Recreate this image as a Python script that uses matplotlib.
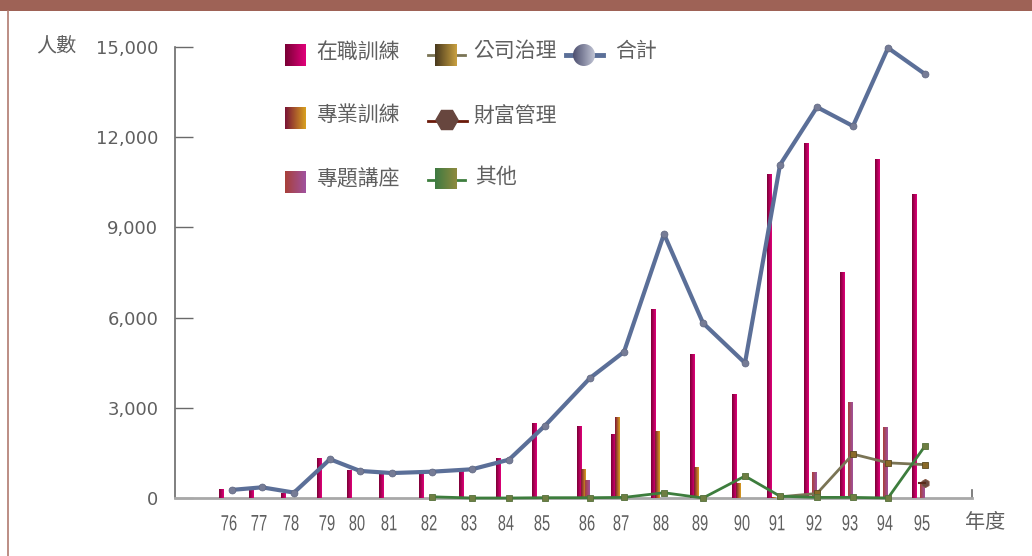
import matplotlib
matplotlib.use("Agg")
import matplotlib.pyplot as plt
import numpy as np
from matplotlib.patches import Rectangle, Circle, RegularPolygon, PathPatch
from matplotlib.textpath import TextPath
from matplotlib.font_manager import FontProperties
from matplotlib.transforms import Affine2D

plt.rcParams['font.family'] = ['Noto Sans CJK TC', 'DejaVu Sans']

# 年度 (民國)
years = ['76', '77', '78', '79', '80', '81', '82', '83', '84', '85',
         '86', '87', '88', '89', '90', '91', '92', '93', '94', '95']
# tick centres along the year axis (spacing is uneven on this chart)
x_pos = [229, 259, 291, 327, 357, 389, 429, 469, 506, 542,
         587, 621, 661, 700, 742, 777, 814, 850, 885, 922]

on_job = [300, 330, 170, 1330, 930, 800, 840, 910, 1320, 2490,
          2400, 2130, 6300, 4790, 3460, 10780, 11800, 7520, 11280, 10110]
professional = [0, 0, 0, 0, 0, 0, 0, 0, 0, 0,
                970, 2690, 2230, 1030, 500, 30, 0, 0, 0, 0]
seminar = [0, 0, 0, 0, 0, 0, 0, 0, 0, 0,
           600, 0, 0, 0, 0, 0, 860, 3190, 2360, 460]
governance = [None] * 15 + [40, 150, 1460, 1170, 1110]
wealth = [None] * 19 + [490]
other = [None] * 6 + [40, 0, 0, 10, 10, 20, 175, 0, 730, 60, 20, 20, 0, 1730]
total = [270, 355, 180, 1290, 900, 830, 875, 955, 1275, 2405,
         3990, 4860, 8780, 5820, 4490, 11080, 13000, 12370, 14970, 14100]

TXT = '#5f5f5f'


def grad(ax, x0, x1, y0, y1, c0, c1, clip=None, z=3):
    g = np.linspace(0, 1, 32)[None, :]
    cols = np.array([matplotlib.colors.to_rgb(c0), matplotlib.colors.to_rgb(c1)])
    img = (1 - g[..., None]) * cols[0] + g[..., None] * cols[1]
    im = ax.imshow(img, extent=[x0, x1, y0, y1], aspect='auto',
                   interpolation='bilinear', zorder=z, origin='lower')
    if clip is not None:
        im.set_clip_path(clip)
    return im


fig = plt.figure(figsize=(10.32, 5.56), dpi=100)
ax = fig.add_axes([175 / 1032, 1 - 498 / 556, 797 / 1032, 451 / 556])

bar_w = 5
bar_sets = [
    (on_job, -7.5, '#7a0035', '#e0007a'),
    (professional, -3.0, '#7a1535', '#d8a020'),
    (seminar, 1.0, '#a8403a', '#a0529e'),
]
for vals, off, c0, c1 in bar_sets:
    xs = [p + off for p in x_pos]
    bars = ax.bar(xs, vals, width=bar_w, color='none', linewidth=0, zorder=3)
    for b, v in zip(bars, vals):
        if v <= 0:
            continue
        grad(ax, b.get_x(), b.get_x() + b.get_width(), 0, v, c0, c1, clip=b)

lx = [p + 3 for p in x_pos]


def series(vals):
    pts = [(x, v) for x, v in zip(lx, vals) if v is not None]
    return [p[0] for p in pts], [p[1] for p in pts]


gx, gy = series(governance)
ax.plot(gx, gy, color='#7a7455', lw=2, zorder=5, marker='s', ms=4.5,
        mfc='#8a6a28', mec='#5a4a20', mew=0.6)
ox, oy = series(other)
ax.plot(ox, oy, color='#3d7d3d', lw=2, zorder=6, marker='s', ms=4.5,
        mfc='#6e7e42', mec='#55703a', mew=0.6, clip_on=False)
wx, wy = series(wealth)
ax.plot(wx, wy, color='#5a2a1a', lw=1.5, zorder=6, marker='h', ms=6,
        mfc='#6a4a40', mec='#8a5a48', mew=0.6)
ax.plot([w - 6 for w in wx] + wx, wy * 2, color='#5a2a1a', lw=1.5, zorder=6)
ax.plot(lx, total, color='#5b6f98', lw=3, zorder=7, marker='o', ms=5,
        mfc='#767c96', mec='#5e6680', mew=0.5, clip_on=False)

ax.set_xlim(175, 972)
ax.set_ylim(0, 15000)
ax.set_yticks(range(0, 15001, 3000))
ax.set_yticklabels([f'{v:,}' for v in range(0, 15001, 3000)],
                   family='DejaVu Sans')
ax.set_xticks(x_pos)
ax.set_xticklabels([])
ax.tick_params(axis='y', direction='in', length=13, width=1, color='#6a6a6a',
               labelsize=13, labelcolor=TXT, pad=12)
ax.tick_params(axis='x', length=0)
for s in ('top', 'right'):
    ax.spines[s].set_visible(False)
ax.spines['left'].set_color('#6a6a6a')
ax.spines['left'].set_linewidth(1.2)
ax.spines['bottom'].set_color('#a8a8a8')
ax.spines['bottom'].set_linewidth(2)
ax.plot([972, 972], [0, 260], color='#6a6a6a', lw=1.2, clip_on=False, zorder=2)
ax.patch.set_alpha(0)

# overlay in pixel units for frame, titles and legend
ov = fig.add_axes([0, 0, 1, 1], zorder=-1)
ov.set_xlim(0, 1032)
ov.set_ylim(556, 0)
ov.axis('off')
ov.add_patch(Rectangle((0, 0), 1032, 11, color='#9e6256', lw=0))
ov.plot([7.5, 7.5], [11, 556], color='#b07a70', lw=1.2)
ov.text(56, 47, '人數', fontsize=14.5, color=TXT, ha='center', va='center')
ov.text(985, 522, '年度', fontsize=14.5, color=TXT, ha='center', va='center')

lg = fig.add_axes([0, 0, 1, 1])
lg.set_xlim(0, 1032)
lg.set_ylim(556, 0)
lg.axis('off')
lg.patch.set_alpha(0)

# condensed year labels under the axis (x in lg units equals ax data units)
narrow = FontProperties(family='Liberation Sans')
for xp, yr in zip(x_pos, years):
    tp = TextPath((0, 0), yr, size=22, prop=narrow)
    bb = tp.get_extents()
    tr = (Affine2D().translate(-(bb.x0 + bb.x1) / 2, -bb.y0)
          .scale(15 / (bb.x1 - bb.x0), -15.5 / (bb.y1 - bb.y0))
          .translate(xp, 530.5))
    lg.add_patch(PathPatch(tr.transform_path(tp), fc=TXT, lw=0))

key_fs = 15
patch_keys = [('在職訓練', 55, '#7a0035', '#e0007a'),
              ('專業訓練', 118, '#7a1535', '#d8a020'),
              ('專題講座', 182, '#a8403a', '#a0529e')]
for lab, yc, c0, c1 in patch_keys:
    grad(lg, 285, 306, yc + 11, yc - 11, c0, c1)
    lg.text(316, yc - 3, lab, fontsize=key_fs, color=TXT, va='center')

lg.plot([428, 465], [55, 55], color='#7a7455', lw=2)
grad(lg, 435, 457, 66, 44, '#4a3a1e', '#c8a040', z=4)
lg.text(473, 51, '公司治理', fontsize=key_fs, color=TXT, va='center')

lg.plot([428, 467], [121, 121], color='#6a1a0a', lw=2)
lg.add_patch(RegularPolygon((447, 120), 6, radius=11, orientation=np.pi / 6,
                            color='#67463e', zorder=4))
lg.text(473, 116, '財富管理', fontsize=key_fs, color=TXT, va='center')

lg.plot([428, 465], [180, 180], color='#3d7d3d', lw=2)
grad(lg, 435, 457, 189, 168, '#3e7a42', '#8e8a3e', z=4)
lg.text(475, 177, '其他', fontsize=key_fs, color=TXT, va='center')

lg.plot([566, 603], [55, 55], color='#5b6f98', lw=3.5)
circ = Circle((584, 55), 11, transform=lg.transData)
lg.add_patch(Circle((584, 55), 11, color='none'))
grad(lg, 573, 595, 66, 44, '#4e5070', '#c0c4d4', clip=circ, z=4)
lg.text(615, 51, '合計', fontsize=key_fs, color=TXT, va='center')

fig.savefig('out.png', dpi=100)
